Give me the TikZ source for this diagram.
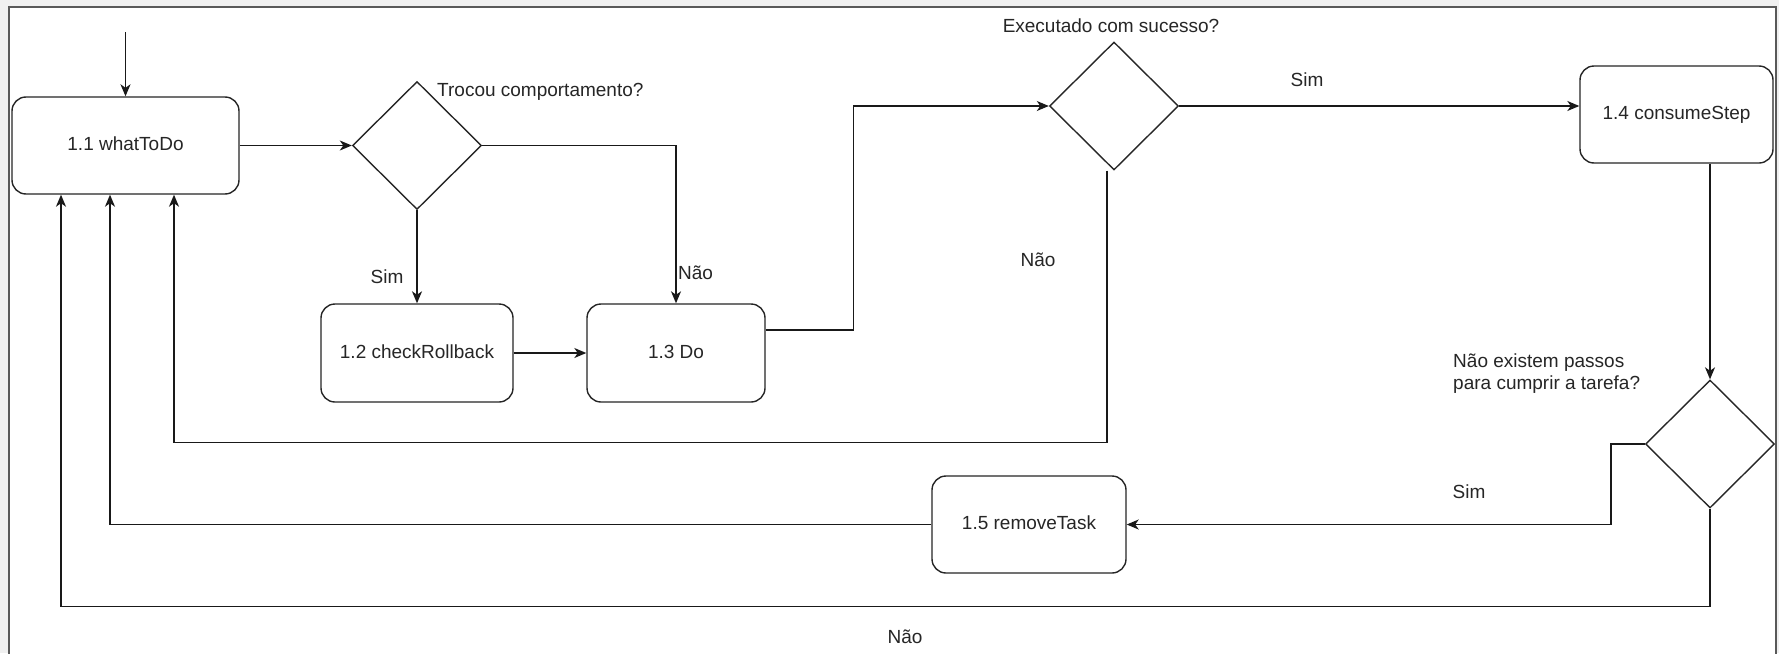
\documentclass[tikz,border=0pt]{standalone}
\usepackage{fontspec}
\setmainfont{Liberation Sans}
\usetikzlibrary{shapes.geometric,arrows.meta,calc}
\begin{document}
\begin{tikzpicture}[x=1pt,y=-1pt,
  every node/.style={font=\fontsize{19}{22}\selectfont, text=black!85},
  procbox/.style={draw=black!85, line width=1.4pt, rounded corners=14pt, fill=white, inner sep=0pt, text height=14pt, text depth=4pt},
  decision/.style={draw=black!85, line width=1.4pt, diamond, aspect=1, inner sep=0pt, minimum width=129pt, minimum height=128pt},
  link/.style={draw=black!90, line width=1.4pt},
  arr/.style={link, -{Stealth[length=12pt,width=10pt,inset=3.5pt]}},
  lbl/.style={inner sep=0pt}
]
\useasboundingbox (0,0) rectangle (1779,653);
\fill[black!6] (0,0) rectangle (1779,653);
\fill[white] (9,7) rectangle (1776,660);
\draw[line width=2pt, black!65] (9,660) -- (9,7) -- (1776,7) -- (1776,660);

% nodes
\node[procbox, minimum width=227pt, minimum height=97pt] (w) at (125.5,145.5) {1.1 whatToDo};
\node[decision] (d1) at (417,145.5) {};
\node[procbox, minimum width=192pt, minimum height=98pt] (cr) at (417,353) {1.2 checkRollback};
\node[procbox, minimum width=178pt, minimum height=98pt] (do) at (676,353) {1.3 Do};
\node[decision] (d2) at (1114,106) {};
\node[procbox, minimum width=193pt, minimum height=97pt] (cs) at (1676.5,114.5) {1.4 consumeStep};
\node[decision] (d3) at (1710,444) {};
\node[procbox, minimum width=194pt, minimum height=97pt] (rt) at (1029,524.5) {1.5 removeTask};
\coordinate (start) at (125.5,32);

% connectors
\draw[arr] (start) -- (w.north);
\draw[arr] (w.east) -- (d1.west);
\draw[arr] (d1.south) -- (cr.north);
\draw[arr] (d1.east) -| (do.north);
\draw[arr] (cr.east) -- (do.west);
\draw[arr] ([yshift=23pt]do.east) -- ++(88,0) |- (d2.west);
\draw[arr] (d2.east) -- (d2.east -| cs.west);
\draw[arr] ([xshift=-7pt]d2.south) -- ++(0,272) -| ([xshift=48.5pt]w.south);
\draw[arr] ([xshift=33.5pt]cs.south) -- (d3.north);
\draw[arr] (d3.west) -- ++(-34,0) |- (rt.east);
\draw[arr] (rt.west) -| ([xshift=-15.5pt]w.south);
\draw[arr] (d3.south) -- ++(0,98) -| ([xshift=-64.5pt]w.south);

% labels
\node[lbl, anchor=west] (t1) at (437,92) {Trocou comportamento?};
\node[lbl] (s1) at (387,277) {Sim};
\node[lbl, anchor=west] (n1) at (678,273) {Não};
\node[lbl] (t2) at (1111,26) {Executado com sucesso?};
\node[lbl] (s2) at (1307,80) {Sim};
\node[lbl] (n2) at (1038,260) {Não};
\node[lbl, anchor=west, align=left] (t3) at (1453,374) {Não existem passos\\para cumprir a tarefa?};
\node[lbl] (s3) at (1469,492) {Sim};
\node[lbl] (n3) at (905,637) {Não};
\end{tikzpicture}
\end{document}
